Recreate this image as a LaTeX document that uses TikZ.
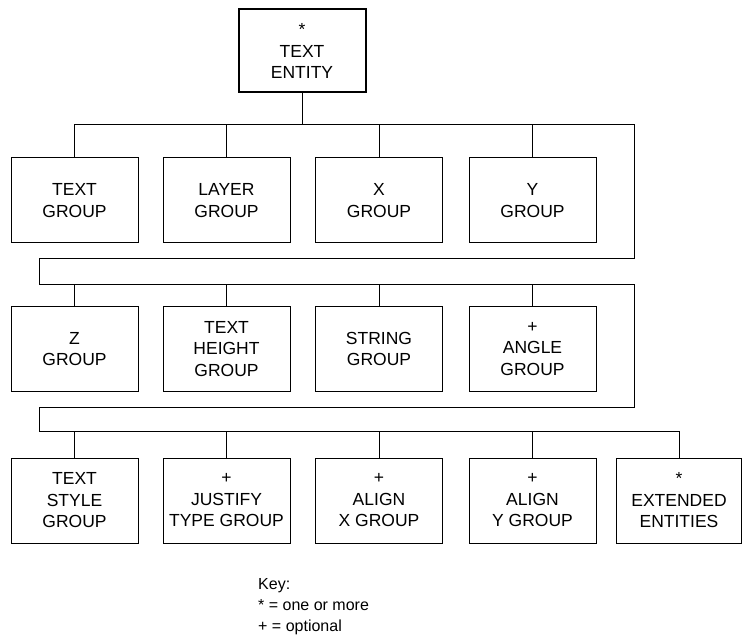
\documentclass[tikz,border=0pt]{standalone}
\usepackage{fontspec}
\setmainfont{Liberation Sans}
\usetikzlibrary{positioning, calc}

\begin{document}
\begin{tikzpicture}[
    x=1pt, y=-1pt,
    every node/.style={font=\fontsize{17.5}{21.5}\selectfont, align=center, inner sep=0pt},
    groupbox/.style={draw, line width=1pt, minimum width=127pt, minimum height=85pt},
    entitybox/.style={draw, line width=2pt, minimum width=127pt, minimum height=83pt},
    link/.style={line width=1pt},
    keytext/.style={font=\fontsize{16}{21}\selectfont, align=left, anchor=north west}
]
\useasboundingbox (0,0) rectangle (742,639);

% top entity
\node[entitybox] (entity) at (302, 51) {*\\TEXT\\ENTITY};

% first row
\node[groupbox] (textg)  at (74.5, 200.5) {TEXT\\GROUP};
\node[groupbox] (layerg) at (226.5, 200.5) {LAYER\\GROUP};
\node[groupbox] (xg)     at (379, 200.5) {X\\GROUP};
\node[groupbox] (yg)     at (532.5, 200.5) {Y\\GROUP};

% second row
\node[groupbox] (zg)      at (74.5, 349) {Z\\GROUP};
\node[groupbox] (heightg) at (226.5, 349) {TEXT\\HEIGHT\\GROUP};
\node[groupbox] (stringg) at (379, 349) {STRING\\GROUP};
\node[groupbox] (angleg)  at (532.5, 349) {+\\ANGLE\\GROUP};

% third row
\node[groupbox] (styleg)   at (74.5, 500.5) {TEXT\\STYLE\\GROUP};
\node[groupbox] (justifyg) at (226.5, 500.5) {+\\JUSTIFY\\TYPE GROUP};
\node[groupbox] (alignxg)  at (379, 500.5) {+\\ALIGN\\X GROUP};
\node[groupbox] (alignyg)  at (532.5, 500.5) {+\\ALIGN\\Y GROUP};
\node[groupbox, minimum width=125pt] (extg) at (679, 500.5) {*\\EXTENDED\\ENTITIES};

% bus corners
\coordinate (busA) at (74, 125);
\coordinate (turnA) at (634, 125);
\coordinate (turnB) at (634, 259);
\coordinate (turnC) at (39, 259);
\coordinate (busB) at (39, 285);
\coordinate (turnD) at (634, 285);
\coordinate (turnE) at (634, 407);
\coordinate (turnF) at (39, 407);
\coordinate (busC) at (39, 431);
\coordinate (busEnd) at (679, 431);

\draw[link] (entity.south) -- (entity.south |- busA);
\draw[link] (busA) -- (turnA) -- (turnB) -- (turnC) -- (busB) -- (turnD)
    -- (turnE) -- (turnF) -- (busC) -- (busEnd);

\foreach \g in {textg, layerg, xg, yg}
    \draw[link] (\g.north) -- (\g.north |- busA);
\foreach \g in {zg, heightg, stringg, angleg}
    \draw[link] (\g.north) -- (\g.north |- busB);
\foreach \g in {styleg, justifyg, alignxg, alignyg, extg}
    \draw[link] (\g.north) -- (\g.north |- busC);

% key
\node[keytext] (key) at (258, 578) {Key:\\* = one or more\\+ = optional};

\end{tikzpicture}
\end{document}
